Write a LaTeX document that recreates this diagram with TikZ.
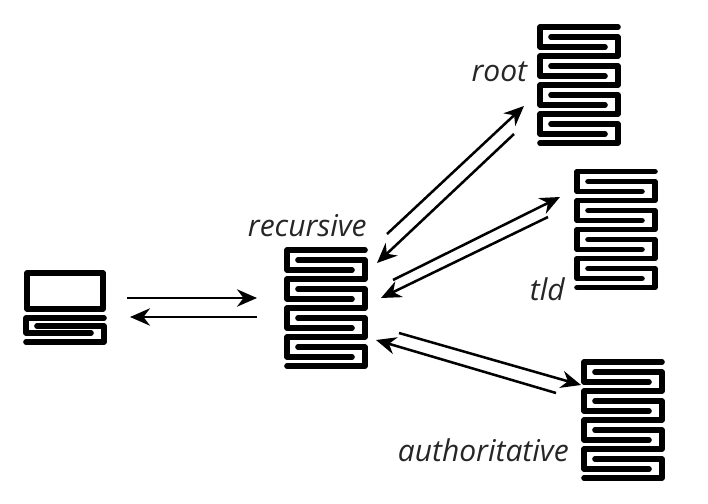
\documentclass[tikz,border=0pt]{standalone}
\usepackage{fontspec}
\setmainfont{Open Sans}
\usetikzlibrary{arrows.meta,positioning,calc}

\begin{document}
\begin{tikzpicture}[
    x=0.75pt, y=-0.75pt,
    serverbox/.style={minimum width=61.5pt, minimum height=90pt, inner sep=0pt, outer sep=0pt},
    laptopbox/.style={minimum width=61.5pt, minimum height=54pt, inner sep=0pt, outer sep=0pt},
    servertext/.style={font=\itshape\fontsize{22.5}{25}\selectfont, inner sep=0pt, text=black!85},
    wire/.style={line width=4.2pt, line cap=round, line join=round},
    arrow/.style={-{Stealth[length=15pt, width=13pt]}, line width=1.9pt},
    serverstack/.pic={
        \draw[wire] (39,-58) -- (-39,-58) -- (-39,-38) -- (26,-38);
        \draw[wire] (-28,-48) -- (39,-48) -- (39,-29) -- (-39,-29) -- (-39,-9) -- (26,-9);
        \draw[wire] (-28,-19) -- (39,-19) -- (39,0) -- (-39,0) -- (-39,20) -- (26,20);
        \draw[wire] (-28,10) -- (39,10) -- (39,29) -- (-39,29) -- (-39,49) -- (26,49);
        \draw[wire] (-28,39) -- (39,39) -- (39,58) -- (-39,58);
    },
    laptopicon/.pic={
        \draw[wire] (-38,-34) rectangle (38,2);
        \draw[wire] (39,11) -- (-39,11) -- (-39,26) -- (26,26);
        \draw[wire] (-28,19) -- (39,19) -- (39,35) -- (-39,35);
    }
]
\useasboundingbox (0,0) rectangle (708,504);

% Servers
\node[serverbox] (recursive) at (326,308) {};
\node[serverbox] (root) at (579,85) {};
\node[serverbox] (tld) at (616,229.5) {};
\node[serverbox] (authoritative) at (623,420) {};
\node[laptopbox] (laptop) at (65,307) {};

\pic at (recursive) {serverstack};
\pic at (root) {serverstack};
\pic at (tld) {serverstack};
\pic at (authoritative) {serverstack};
\pic at (laptop) {laptopicon};

% Labels
\node[servertext, left=0pt of recursive.north east, yshift=16.5pt] (recursivetext) {recursive};
\node[servertext, left=8pt of root.west, yshift=9.75pt] (roottext) {root};
\node[servertext, left=7.5pt of tld.south west] (tldtext) {tld};
\node[servertext, left=9.75pt of authoritative.west, yshift=-23pt] (authtext) {authoritative};

% Arrows
\draw[arrow] ($(laptop.east)+(21,-9)$) -- ($(recursive.west)+(-28,-10)$);
\draw[arrow] ($(recursive.west)+(-28,9)$) -- ($(laptop.east)+(24,10)$);
\draw[arrow] ($(recursive.north east)+(20,-14)$) -- ($(root.south west)+(-14,-39)$);
\draw[arrow] ($(root.south west)+(-24,-11)$) -- ($(recursive.north east)+(10,15)$);
\draw[arrow] ($(recursive.east)+(26,-28)$) -- ($(tld.west)+(-15,-32.5)$);
\draw[arrow] ($(tld.west)+(-27,-12.5)$) -- ($(recursive.east)+(14,-10)$);
\draw[arrow] ($(recursive.south east)+(32,-35)$) -- ($(authoritative.north west)+(-1,25)$);
\draw[arrow] ($(authoritative.north west)+(-26,33)$) -- ($(recursive.south east)+(9,-28)$);

\end{tikzpicture}
\end{document}
